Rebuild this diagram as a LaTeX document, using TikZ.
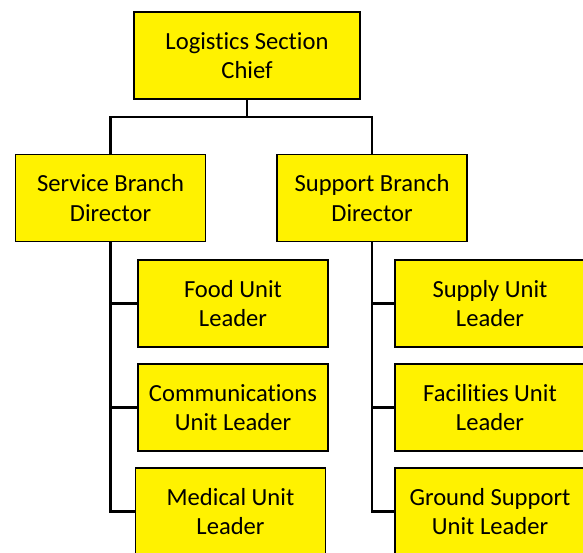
\documentclass[tikz,border=0pt]{standalone}
\usepackage{fontspec}
\setmainfont{Carlito}[Ligatures={NoCommon,NoRare}]
\tikzset{
  unitbox/.style={draw=black, fill=yellow, line width=1.8pt, align=center,
    minimum width=190pt, minimum height=87pt, inner sep=2pt,
    font=\fontsize{24.6pt}{29.5pt}\selectfont},
  link/.style={draw=black, line width=2.4pt}
}
\begin{document}
\begin{tikzpicture}[x=1pt,y=1pt]
\useasboundingbox (0,0) rectangle (583,553);
\node[unitbox, minimum width=226pt] (chief) at (247,497.5) {Logistics Section\\Chief};
\node[unitbox] (service) at (110.5,355) {Service Branch\\Director};
\node[unitbox] (support) at (372,355) {Support Branch\\Director};
\node[unitbox] (food) at (233,249.5) {Food Unit\\Leader};
\node[unitbox] (comm) at (233,145.5) {Communications\\Unit Leader};
\node[unitbox] (medical) at (230.5,41.5) {Medical Unit\\Leader};
\node[unitbox] (supply) at (490,249.5) {Supply Unit\\Leader};
\node[unitbox] (facilities) at (490,145.5) {Facilities Unit\\Leader};
\node[unitbox] (ground) at (490,41.5) {Ground Support\\Unit Leader};
\coordinate (bar) at (247,436);
\draw[link] (chief.south) -- (bar) -| (service.north);
\draw[link] (bar) -| (support.north);
\draw[link] (service.south) |- (food.west);
\draw[link] (service.south) |- (comm.west);
\draw[link] (service.south) |- (medical.west);
\draw[link] (support.south) |- (supply.west);
\draw[link] (support.south) |- (facilities.west);
\draw[link] (support.south) |- (ground.west);
\end{tikzpicture}
\end{document}
